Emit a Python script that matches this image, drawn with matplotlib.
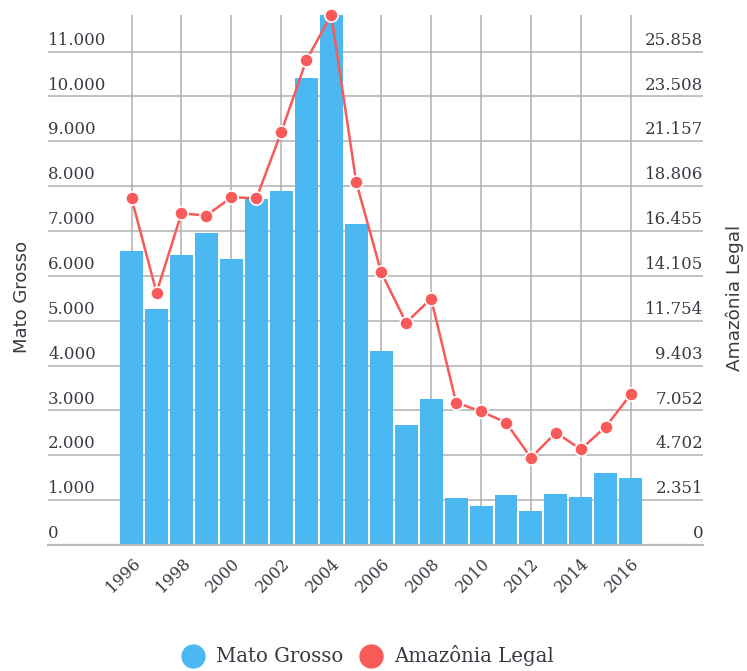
import matplotlib
matplotlib.use('Agg')
import matplotlib.pyplot as plt
from matplotlib.lines import Line2D
from matplotlib.transforms import offset_copy

years = list(range(1996, 2017))
mato_grosso = [6543, 5271, 6466, 6963, 6369, 7703, 7892, 10405, 11814, 7145, 4333,
               2678, 3258, 1049, 871, 1120, 757, 1139, 1075, 1601, 1489]
amazonia_legal = [18161, 13227, 17383, 17259, 18226, 18165, 21651, 25396, 27772, 19014, 14286,
                  11651, 12911, 7464, 7000, 6418, 4571, 5891, 5012, 6207, 7893]
left_ticks = [0, 1000, 2000, 3000, 4000, 5000, 6000, 7000, 8000, 9000, 10000, 11000]
xtick_years = list(range(1996, 2017, 2))

BLUE = '#4cb8f1'
RED = '#f85a5a'
GRID = '#b0b0b0'
TXT = '#3a3a44'
SERIF = 'DejaVu Serif'

W, H = 747, 671
fig = plt.figure(figsize=(W / 100, H / 100), dpi=100)
ax = fig.add_axes([48 / W, 126 / H, 655 / W, 530 / H])

px_per_year = 25.0
ax.set_xlim(1996 - (131.7 - 48) / px_per_year, 2016 + (703 - 630.7) / px_per_year)
ax.set_ylim(0, max(mato_grosso))

ax.bar(years, mato_grosso, width=0.92, color=BLUE, zorder=2, linewidth=0)

for s in ['top', 'left', 'right']:
    ax.spines[s].set_visible(False)
ax.spines['bottom'].set_color('#bdbdbd')
ax.spines['bottom'].set_linewidth(1.6)
ax.spines['bottom'].set_zorder(3)

ax.set_yticks(left_ticks)
ax.set_yticklabels([])
ax.tick_params(axis='y', length=0)
ax.set_xticks(xtick_years)
ax.set_xticklabels([str(y) for y in xtick_years], rotation=45, ha='right',
                   rotation_mode='anchor', fontfamily=SERIF, fontsize=11.5, color=TXT)
ax.tick_params(axis='x', length=0, pad=7)
ax.grid(True, color=GRID, linewidth=1.1, zorder=0)
ax.set_axisbelow(True)

ratio = max(amazonia_legal) / max(mato_grosso)
ytr = ax.get_yaxis_transform()
tl = offset_copy(ytr, fig=fig, x=0, y=2, units='points')
for v in left_ticks:
    lab = f"{v:,}".replace(',', '.')
    ax.text(0, v, lab, transform=tl, ha='left', va='bottom', fontfamily=SERIF,
            fontsize=12, color=TXT)
    rlab = f"{round(v * ratio):,}".replace(',', '.')
    ax.text(1, v, rlab, transform=tl, ha='right', va='bottom', fontfamily=SERIF,
            fontsize=12, color=TXT)

ax2 = ax.twinx()
ax2.set_ylim(0, max(amazonia_legal))
ax2.plot(years, amazonia_legal, color=RED, lw=1.8, marker='o', ms=9.5, mfc=RED,
         mec='white', mew=1.2, clip_on=False, zorder=5)
for s in ['top', 'left', 'right', 'bottom']:
    ax2.spines[s].set_visible(False)
ax2.set_yticks([])

fig.text(22 / W, 1 - 297 / H, 'Mato Grosso', rotation=90, ha='center', va='center',
         fontsize=13, color=TXT, fontfamily='DejaVu Sans')
fig.text(735 / W, 1 - 298 / H, 'Amazônia Legal', rotation=90, ha='center', va='center',
         fontsize=13.3, color=TXT, fontfamily='DejaVu Sans')

handles = [Line2D([], [], ls='none', marker='o', ms=16.5, mfc=BLUE, mec=BLUE),
           Line2D([], [], ls='none', marker='o', ms=16.5, mfc=RED, mec=RED)]
leg = fig.legend(handles, ['Mato Grosso', 'Amazônia Legal'], loc='center',
                 bbox_to_anchor=(0.492, 1 - 656 / H), ncol=2, frameon=False,
                 handlelength=1.2, handletextpad=0.55, columnspacing=0.8,
                 prop={'family': SERIF, 'size': 14.2})
for t in leg.get_texts():
    t.set_color(TXT)

fig.savefig('out.png', dpi=100)
